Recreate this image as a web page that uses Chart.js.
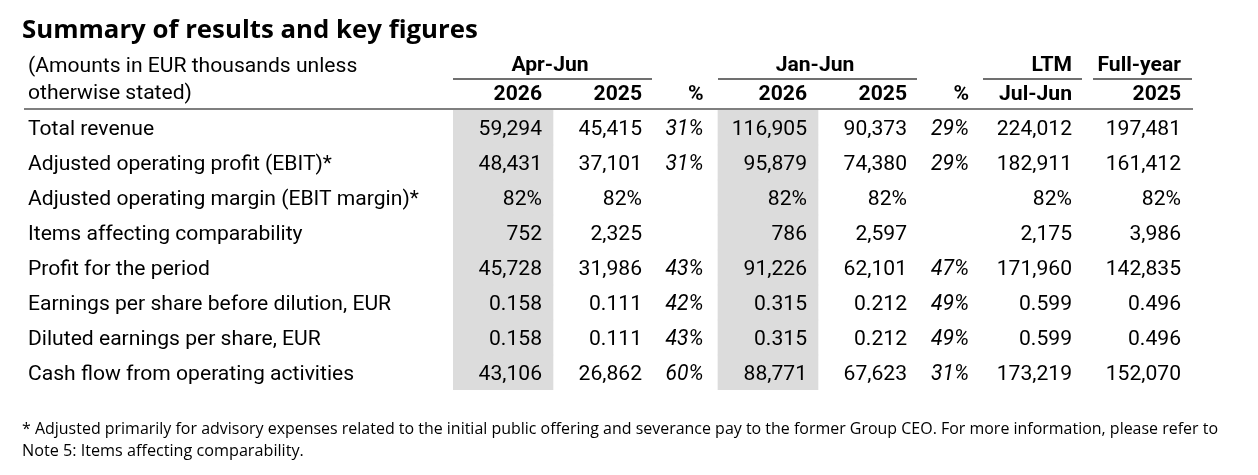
<!DOCTYPE html>
<html>
<head>
<meta charset="utf-8">
<script src="https://cdn.jsdelivr.net/npm/chart.js@4.4.1/dist/chart.umd.min.js"></script>
<style>
  html, body { margin: 0; padding: 0; background: #ffffff; }
  #wrap { width: 1258px; height: 475px; }
</style>
</head>
<body>
<div id="wrap"><canvas id="c" width="1258" height="475"></canvas></div>
<script>
// ---------------- DATA ----------------
const titleText = 'Summary of results and key figures';
const unitNote = ['(Amounts in EUR thousands unless', 'otherwise stated)'];
const rowLabels = [
  'Total revenue',
  'Adjusted operating profit (EBIT)*',
  'Adjusted operating margin (EBIT margin)*',
  'Items affecting comparability',
  'Profit for the period',
  'Earnings per share before dilution, EUR',
  'Diluted earnings per share, EUR',
  'Cash flow from operating activities'
];
const rowFormats = ['int', 'int', 'pct', 'int', 'int', 'eps', 'eps', 'int'];
const groupHeaders = ['Apr-Jun', 'Jan-Jun', 'LTM', 'Full-year'];
const columnHeaders = ['2026', '2025', '%', '2026', '2025', '%', 'Jul-Jun', '2025'];

const aprJun2026   = [59294, 48431, 82, 752, 45728, 0.158, 0.158, 43106];
const aprJun2025   = [45415, 37101, 82, 2325, 31986, 0.111, 0.111, 26862];
const aprJunChange = [31, 31, null, null, 43, 42, 43, 60];
const janJun2026   = [116905, 95879, 82, 786, 91226, 0.315, 0.315, 88771];
const janJun2025   = [90373, 74380, 82, 2597, 62101, 0.212, 0.212, 67623];
const janJunChange = [29, 29, null, null, 47, 49, 49, 31];
const ltmJulJun    = [224012, 182911, 82, 2175, 171960, 0.599, 0.599, 173219];
const fullYear2025 = [197481, 161412, 82, 3986, 142835, 0.496, 0.496, 152070];

const footnoteLines = [
  '* Adjusted primarily for advisory expenses related to the initial public offering and severance pay to the former Group CEO. For more information, please refer to',
  'Note 5: Items affecting comparability.'
];

// ---------------- LAYOUT / STYLE ----------------
const columnSeries = [aprJun2026, aprJun2025, aprJunChange, janJun2026, janJun2025, janJunChange, ltmJulJun, fullYear2025];
const columnKinds  = ['value', 'value', 'change', 'value', 'value', 'change', 'value', 'value'];

const L = {
  padLeft: 22, padRight: 40,
  labelIndent: 6,
  tableLeft: 453,
  tableRight: 1193,
  tableTop: 110,
  tableFont: 'Roboto', tableSize: 21.1, textDy: 2,
  titleFont: 'Open Sans', titleSize: 25.8, titlePadTop: 15, titleLH: 1.2,
  footFont: 'Open Sans', footSize: 16.2, footLH: 22 / 16.2, footPadTop: 28, footPadBottom: 13,
  shade: '#dcdcdc',
  // x-scale units: column layout
  xMax: 740,
  columns: [
    { start: 0,   end: 100, textRight: 89 },
    { start: 100, end: 200, textRight: 189 },
    { start: 200, end: 265, textRight: 250.5 },
    { start: 265, end: 365, textRight: 354 },
    { start: 365, end: 465, textRight: 454 },
    { start: 465, end: 530, textRight: 516 },
    { start: 530, end: 630, textRight: 619 },
    { start: 640, end: 740, textRight: 728 }
  ],
  groups: [
    { from: 0, to: 1, align: 'center' },
    { from: 3, to: 4, align: 'center' },
    { from: 6, to: 6, align: 'right' },
    { from: 7, to: 7, align: 'right' }
  ],
  shadedColumns: [0, 3]
};
const titleHeight = L.titlePadTop + L.titleSize * L.titleLH;

function fmt(v, rowFmt, kind) {
  if (v === null || v === undefined) return '';
  if (kind === 'change') return v + '%';
  if (rowFmt === 'pct') return v + '%';
  if (rowFmt === 'eps') return v.toFixed(3);
  return v.toLocaleString('en-US');
}

const shadeDatasets = L.shadedColumns.map(ci => ({
  data: rowLabels.map(() => [L.columns[ci].start, L.columns[ci].end]),
  backgroundColor: L.shade,
  borderWidth: 0,
  barPercentage: 1,
  categoryPercentage: 1,
  grouped: false
}));

const tablePlugin = {
  id: 'tableText',
  afterLayout(chart) {
    chart.scales.y.left += L.labelIndent;
  },
  afterDatasetsDraw(chart) {
    const { ctx, chartArea } = chart;
    const xs = chart.scales.x, ys = chart.scales.y;
    const top = chartArea.top;
    const f = (style, weight) => `${style || ''} ${weight || ''} ${L.tableSize}px ${L.tableFont}`.trim();
    ctx.save();
    ctx.fillStyle = '#000';
    ctx.textBaseline = 'middle';

    // cells
    ctx.textAlign = 'right';
    columnSeries.forEach((series, ci) => {
      const x = xs.getPixelForValue(L.columns[ci].textRight);
      ctx.font = columnKinds[ci] === 'change' ? f('italic') : f();
      series.forEach((v, ri) => {
        const s = fmt(v, rowFormats[ri], columnKinds[ci]);
        if (s) ctx.fillText(s, x, ys.getPixelForValue(ri) + L.textDy);
      });
    });

    // unit note (left header)
    ctx.textAlign = 'left';
    ctx.font = f();
    ctx.fillText(unitNote[0], L.padLeft + L.labelIndent, top - 43);
    ctx.fillText(unitNote[1], L.padLeft + L.labelIndent, top - 16.5);

    // group headers + underlines
    ctx.font = f('', 'bold');
    groupHeaders.forEach((g, gi) => {
      const grp = L.groups[gi];
      const c0 = L.columns[grp.from], c1 = L.columns[grp.to];
      if (grp.align === 'center') {
        ctx.textAlign = 'center';
        ctx.fillText(g, (xs.getPixelForValue(c0.start) + xs.getPixelForValue(c1.textRight)) / 2 + 2.5, top - 44);
      } else {
        ctx.textAlign = 'right';
        ctx.fillText(g, xs.getPixelForValue(c1.textRight), top - 44);
      }
      ctx.strokeStyle = '#404040';
      ctx.lineWidth = 1.5;
      ctx.beginPath();
      ctx.moveTo(xs.getPixelForValue(c0.start), top - 31);
      ctx.lineTo(xs.getPixelForValue(c1.end) - 1, top - 31);
      ctx.stroke();
    });

    // header bottom rule
    ctx.strokeStyle = '#7f7f7f';
    ctx.lineWidth = 2;
    ctx.beginPath();
    ctx.moveTo(L.padLeft + 2, top - 1);
    ctx.lineTo(chartArea.right, top - 1);
    ctx.stroke();
    ctx.restore();
  }
};

new Chart(document.getElementById('c'), {
  type: 'bar',
  data: { labels: rowLabels, datasets: shadeDatasets },
  options: {
    indexAxis: 'y',
    responsive: false,
    animation: false,
    devicePixelRatio: 1,
    events: [],
    layout: { padding: { left: L.padLeft, right: L.padRight, top: 0, bottom: 0 } },
    plugins: {
      legend: { display: false },
      tooltip: { enabled: false },
      title: {
        display: true, text: titleText, align: 'start', color: '#000',
        font: { family: L.titleFont, size: L.titleSize, weight: 'bold', lineHeight: L.titleLH },
        padding: { top: L.titlePadTop, bottom: 0 }
      },
      subtitle: {
        display: true, text: footnoteLines, position: 'bottom', align: 'start', color: '#000',
        font: { family: L.footFont, size: L.footSize, lineHeight: L.footLH },
        padding: { top: L.footPadTop, bottom: L.footPadBottom }
      }
    },
    scales: {
      x: {
        type: 'linear', position: 'top', min: 0, max: L.xMax,
        grid: { display: false, drawTicks: false }, border: { display: false },
        afterBuildTicks: s => { s.ticks = L.columns.map(c => ({ value: c.textRight })); },
        afterFit: s => { s.height = L.tableTop - titleHeight; },
        ticks: {
          autoSkip: false, maxRotation: 0, minRotation: 0, align: 'end', padding: 2.4, color: '#000',
          font: { family: L.tableFont, size: L.tableSize, weight: 'bold' },
          callback: (v, i) => columnHeaders[i]
        }
      },
      y: {
        type: 'category', position: 'left',
        grid: { display: false, drawTicks: false }, border: { display: false },
        afterFit: s => { s.width = L.tableLeft - L.padLeft; },
        ticks: {
          autoSkip: false, crossAlign: 'far', color: '#000', labelOffset: L.textDy,
          font: { family: L.tableFont, size: L.tableSize }
        }
      }
    }
  },
  plugins: [tablePlugin, {
    id: 'rightEdge',
    afterLayout(chart) {
      // keep the table's right edge fixed while the footnote may use the wider padding
      const xs = chart.scales.x;
      const dx = L.tableRight - chart.chartArea.right;
      if (dx !== 0) {
        chart.chartArea.right = L.tableRight;
        chart.chartArea.width = chart.chartArea.right - chart.chartArea.left;
        xs.right = L.tableRight;
        xs.width = xs.right - xs.left;
        xs.configure();
      }
    }
  }]
});
</script>
</body>
</html>
